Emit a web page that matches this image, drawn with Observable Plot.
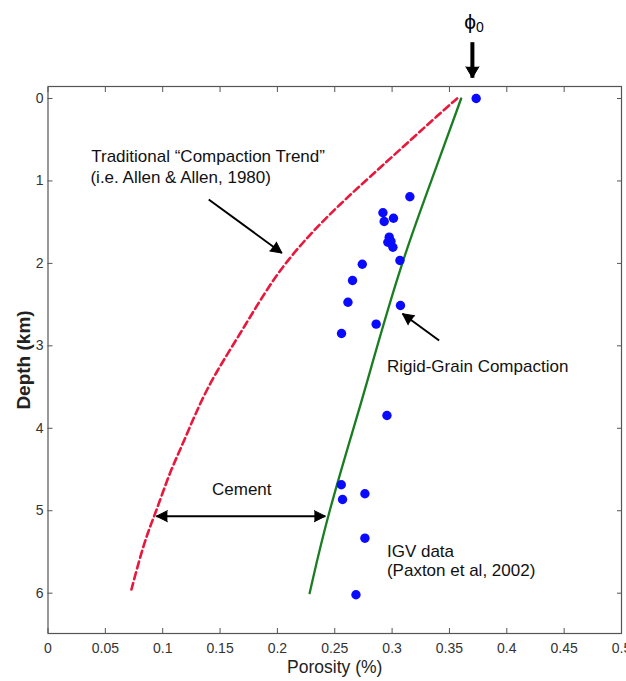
<!DOCTYPE html>
<html>
<head>
<meta charset="utf-8">
<script src="https://cdn.jsdelivr.net/npm/d3@7"></script>
<script src="https://cdn.jsdelivr.net/npm/@observablehq/plot@0.6"></script>
<style>
  html, body { margin: 0; padding: 0; background: #fff; }
  #chart svg { display: block; }
</style>
</head>
<body>
<div id="chart"></div>
<script>
// ---------- data ----------
// IGV data points (Paxton et al, 2002)
const igvPorosity = [0.3733, 0.3155, 0.2920, 0.2931, 0.3012, 0.2975, 0.2963, 0.2990, 0.3007, 0.3068, 0.2740,
                     0.2655, 0.2615, 0.3073, 0.2861, 0.2559, 0.2955, 0.2557, 0.2568, 0.2763, 0.2763, 0.2685];
const igvDepth    = [0.000, 1.192, 1.386, 1.492, 1.452, 1.682, 1.743, 1.731, 1.804, 1.965, 2.010,
                     2.207, 2.471, 2.511, 2.737, 2.850, 3.845, 4.685, 4.864, 4.794, 5.333, 6.019];

// Rigid-grain compaction curve (green)
const rigidDepth    = [0.000, 0.873, 1.965, 3.299, 3.663, 5.058, 6.000];
const rigidPorosity = [0.3602, 0.3376, 0.3085, 0.2809, 0.2737, 0.2435, 0.2281];

// Traditional compaction trend (red dashed)
const tradDepth    = [0.000, 0.106, 0.873, 1.277, 1.682, 2.167, 2.854, 3.501, 4.229, 4.512, 5.037, 5.361, 6.000];
const tradPorosity = [0.3567, 0.3477, 0.2868, 0.2548, 0.2258, 0.1967, 0.1677, 0.1380, 0.1165, 0.1067, 0.0936, 0.0841, 0.0719];

// axes
const xTicks = [0, 0.05, 0.1, 0.15, 0.2, 0.25, 0.3, 0.35, 0.4, 0.45, 0.5];
const yTicks = [0, 1, 2, 3, 4, 5, 6];
const xDomain = [0, 0.5];
const yDomain = [-0.1455, 6.489];
const xTitle = "Porosity (%)";
const yTitle = "Depth (km)";

// annotations
const noteText = ["Traditional \u201CCompaction Trend\u201D", "(i.e. Allen & Allen, 1980)",
                  "Rigid-Grain Compaction", "Cement", "IGV data", "(Paxton et al, 2002)"];
const noteX = [0.0377, 0.0370, 0.2955, 0.1430, 0.2955, 0.2955];
const noteY = [0.707, 0.962, 3.254, 4.737, 5.489, 5.720];

// annotation arrows (tail -> tip), last one is the phi_0 marker
const arrowX1 = [0.1401, 0.3410, 0.0945, 0.3700];
const arrowY1 = [1.225, 2.935, 5.066, -0.683];
const arrowX2 = [0.2039, 0.3091, 0.2418, 0.3700];
const arrowY2 = [1.874, 2.611, 5.066, -0.251];
const arrowBoth = [false, false, true, false];
const arrowHeavy = [false, false, false, true];

// phi_0 label
const phiText = ["\u03D5", "0"];
const phiX = [0.3680, 0.3765];
const phiY = [-0.922, -0.858];

// ---------- chart ----------
const FONT = "'Liberation Sans', Arial, Helvetica, sans-serif";
const layout = {
  width: 626, height: 681,
  marginLeft: 47.5, marginRight: 5, marginTop: 86, marginBottom: 48,
  x: {domain: xDomain, label: null, axis: null},
  y: {domain: yDomain, reverse: true, label: null, axis: null},
  style: {fontFamily: FONT, background: "#fff", color: "#111"}
};

const igv = igvDepth.map((d, i) => ({depth: d, por: igvPorosity[i]}));
const rigid = rigidDepth.map((d, i) => ({depth: d, por: rigidPorosity[i]}));
const trad = tradDepth.map((d, i) => ({depth: d, por: tradPorosity[i]}));
const notes = noteText.map((t, i) => ({t, x: noteX[i], y: noteY[i]}));
const arrows = arrowX1.map((x1, i) => ({x1, y1: arrowY1[i], x2: arrowX2[i], y2: arrowY2[i], both: arrowBoth[i], heavy: arrowHeavy[i]}));

// probe plot to get the scales (for head orientation)
const probe = Plot.plot({...layout, marks: [Plot.dot(igv, {x: "por", y: "depth"})]});
const sx = probe.scale("x"), sy = probe.scale("y");
function angleOf(xa, ya, xb, yb) {
  const dx = sx.apply(xb) - sx.apply(xa), dy = sy.apply(yb) - sy.apply(ya);
  return Math.atan2(dx, -dy) * 180 / Math.PI;
}
const heads = [];
arrows.forEach(a => {
  heads.push({x: a.x2, y: a.y2, a: angleOf(a.x1, a.y1, a.x2, a.y2), heavy: a.heavy});
  if (a.both) heads.push({x: a.x1, y: a.y1, a: angleOf(a.x2, a.y2, a.x1, a.y1), heavy: a.heavy});
});

const hasSpike = typeof Plot.spike === "function";
function headMarks(data, r, len) {
  if (hasSpike) {
    return Plot.vector(data, {x: "x", y: "y", rotate: "a", length: len, r: r, shape: "spike", anchor: "end",
                              fill: "#000", stroke: "#000", strokeWidth: 1});
  }
  return Plot.text(data, {x: "x", y: "y", text: () => "\u25B2", rotate: "a", fontSize: len * 1.4, fill: "#000"});
}

const tickFmt = d => String(d);
const blank = () => "";

const chart = Plot.plot({
  ...layout,
  marks: [
    // curves
    Plot.line(trad, {x: "por", y: "depth", stroke: "#e8173c", strokeWidth: 2.6, strokeDasharray: "7,4", curve: "basis"}),
    Plot.line(rigid, {x: "por", y: "depth", stroke: "#1b7d22", strokeWidth: 2.3, curve: "basis"}),
    // data points
    Plot.dot(igv, {x: "por", y: "depth", r: 4.7, fill: "#0a0aff", stroke: "none"}),
    // annotation text
    Plot.text(notes, {x: "x", y: "y", text: "t", textAnchor: "start", fontSize: 17, fill: "#111"}),
    // arrows
    Plot.link(arrows.filter(a => !a.heavy), {x1: "x1", y1: "y1", x2: "x2", y2: "y2", stroke: "#000", strokeWidth: 2}),
    Plot.link(arrows.filter(a => a.heavy), {x1: "x1", y1: "y1", x2: "x2", y2: "y2", stroke: "#000", strokeWidth: 4}),
    headMarks(heads.filter(h => !h.heavy), 5.5, 11),
    headMarks(heads.filter(h => h.heavy), 6.5, 11),
    // phi_0
    Plot.text([0], {x: () => phiX[0], y: () => phiY[0], text: () => phiText[0], fontSize: 21, fill: "#000"}),
    Plot.text([0], {x: () => phiX[1], y: () => phiY[1], text: () => phiText[1], fontSize: 14, fill: "#000"}),
    // tick labels
    Plot.text(xTicks, {x: d => d, frameAnchor: "bottom", dy: 15, lineAnchor: "middle", textAnchor: "middle",
                       text: tickFmt, fontSize: 14, fill: "#333"}),
    Plot.text(yTicks, {y: d => d, frameAnchor: "left", dx: -4.5, lineAnchor: "middle", textAnchor: "end",
                       text: tickFmt, fontSize: 14, fill: "#333"}),
    // inward ticks on all four sides
    Plot.axisX(xTicks, {anchor: "bottom", tickSize: 5, dy: -5, tickFormat: blank, stroke: "#555", label: null}),
    Plot.axisX(xTicks, {anchor: "top", tickSize: 5, dy: 5, tickFormat: blank, stroke: "#555", label: null}),
    Plot.axisY(yTicks, {anchor: "left", tickSize: 5, dx: 5, tickFormat: blank, stroke: "#555", label: null}),
    Plot.axisY(yTicks, {anchor: "right", tickSize: 5, dx: -5, tickFormat: blank, stroke: "#555", label: null}),
    Plot.frame({stroke: "#555", strokeWidth: 1.2}),
    // axis titles
    Plot.text([xTitle], {frameAnchor: "bottom", dy: 34, lineAnchor: "middle", textAnchor: "middle", fontSize: 17.5, fill: "#222"}),
    Plot.text([yTitle], {frameAnchor: "left", dx: -24.5, rotate: -90, lineAnchor: "middle", textAnchor: "middle", fontSize: 19, fontWeight: "bold", fill: "#222"})
  ]
});
document.getElementById("chart").appendChild(chart);
</script>
</body>
</html>
